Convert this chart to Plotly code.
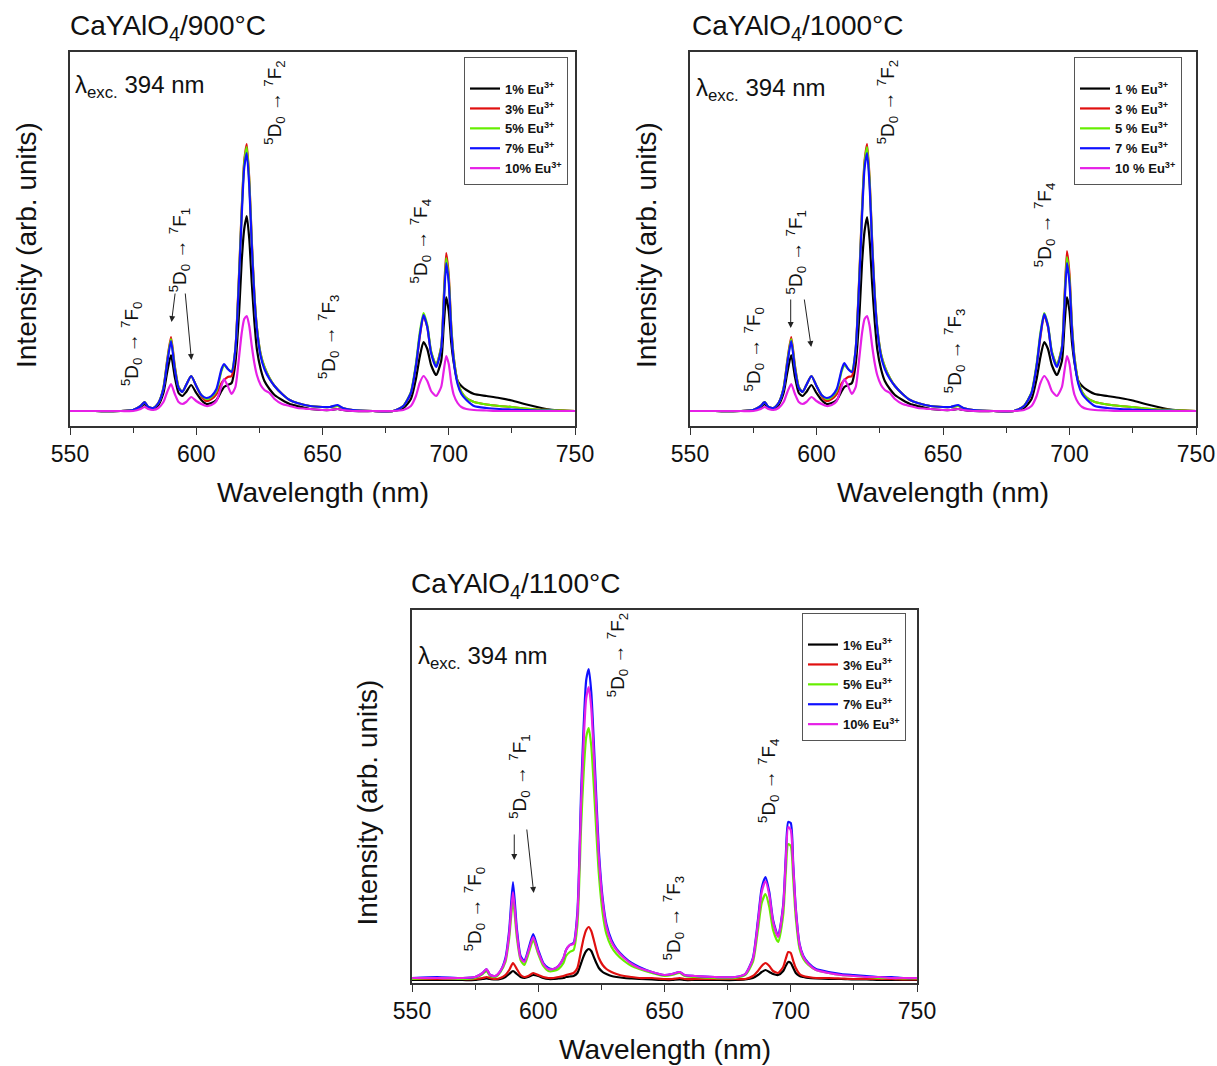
import plotly.graph_objects as go

# ---------------- data ----------------
WL = [550, 560, 570, 575, 578, 579.5, 581, 583, 585, 587,
      588.5, 590, 591.5, 593, 594.5, 596, 598, 600, 602, 604,
      606, 608, 610, 611, 612.5, 614, 615.5, 617, 618, 619,
      620, 621, 622, 623, 624, 625.5, 627, 629, 631, 634,
      637, 640, 645, 650, 653, 656, 658, 662, 670, 678,
      682, 685, 687, 688.5, 690, 691.5, 693, 695, 697, 698,
      699, 700, 701, 702, 703.5, 705, 707, 710, 715, 720,
      725, 730, 735, 740, 745, 750]

# ---- CaYAlO4 / 900 C ----
p900_eu1 = [0, 0, 0, 1, 4, 7, 3, 2, 6, 18,
            39, 56, 34, 18, 15, 19, 26, 18, 11, 7,
            8, 11, 20, 24, 26, 28, 48, 100, 150, 182,
            195, 172, 128, 90, 62, 42, 30, 22, 16, 11,
            7, 5, 2, 1, 1, 2, 1, 0, 0, 0,
            3, 12, 32, 54, 69, 62, 46, 36, 50, 85,
            114, 100, 68, 48, 30, 25, 21, 17, 15, 13,
            10.5, 7, 4, 1.5, 0.5, 0]
p900_eu3 = [0, 0, 0, 1, 5, 9, 4, 3, 8, 23,
            51, 74, 45, 24, 19, 26, 35, 25, 15, 10,
            12, 17, 28, 31, 34, 35, 62, 140, 202, 250,
            267, 232, 170, 118, 84, 57, 44, 33, 25, 17,
            11, 8, 5, 4, 4, 5, 3, 1, 0, 0,
            5, 18, 45, 74, 95, 84, 59, 46, 64, 112,
            158, 136, 85, 53, 29, 19, 13, 9, 6.5, 5,
            4, 2.5, 1.5, 1, 0.5, 0]
p900_eu5 = [0, 0, 0, 1, 5, 9, 4, 3, 8, 23,
            50, 72, 44, 24, 19, 26, 35, 25, 16, 12,
            14, 20, 40, 46, 42, 40, 62, 138, 200, 248,
            264, 230, 168, 117, 84, 57, 44, 33, 25, 17,
            11, 8, 5, 4, 4, 5, 3, 1, 0, 0,
            5, 19, 47, 78, 98, 86, 60, 46, 64, 110,
            153, 132, 84, 53, 29, 19, 13, 9, 6.5, 5,
            4, 2.5, 1.5, 1, 0.5, 0]
p900_eu7 = [0, 0, 0, 1, 5, 9, 4, 3, 8, 22,
            48, 70, 42, 23, 19, 26, 35, 25, 16, 13,
            15, 22, 42, 47, 42, 39, 62, 135, 195, 243,
            258, 225, 165, 115, 82, 55, 42, 32, 25, 17,
            11, 8, 5, 4, 4, 6, 3, 1, 0, 0,
            5, 18, 45, 75, 96, 84, 58, 44, 62, 105,
            148, 128, 80, 50, 27, 17, 11, 5, 3, 2,
            1.5, 1, 0.5, 0.5, 0, 0]
p900_eu10 = [0, 0, 0, 0, 2, 4, 2, 1, 3, 9,
             19, 27, 17, 9, 7, 9, 14, 10, 7, 5,
             6, 10, 25, 32, 25, 17, 24, 55, 78, 92,
             95, 85, 65, 48, 36, 26, 21, 18, 12, 7,
             5, 3, 2, 1, 1, 2, 1, 0, 0, 0,
             1, 5, 15, 28, 35, 30, 20, 15, 24, 40,
             55, 47, 28, 16, 8, 4, 2, 1, 0.5, 0,
             0, 0, 0, 0, 0, 0]

# ---- CaYAlO4 / 1000 C ----
p1000_eu1 = [0, 0, 0, 1, 4, 7, 3, 2, 6, 18,
             39, 56, 34, 18, 15, 19, 26, 18, 11, 7,
             8, 11, 20, 24, 26, 28, 47, 98, 148, 180,
             194, 171, 127, 90, 62, 42, 30, 22, 16, 11,
             7, 5, 2, 1, 1, 2, 1, 0, 0, 0,
             3, 12, 32, 54, 69, 62, 46, 36, 50, 85,
             114, 100, 68, 48, 30, 25, 21, 17, 15, 13,
             10.5, 7, 4, 1.5, 0.5, 0]
p1000_eu3 = [0, 0, 0, 1, 5, 9, 4, 3, 8, 23,
             51, 74, 45, 24, 19, 26, 35, 25, 15, 10,
             12, 17, 28, 31, 34, 35, 62, 140, 202, 250,
             267, 232, 170, 118, 84, 57, 44, 33, 25, 17,
             11, 8, 5, 4, 4, 5, 3, 1, 0, 0,
             5, 18, 45, 74, 96, 84, 59, 46, 64, 112,
             160, 137, 85, 53, 29, 19, 13, 9, 6.5, 5,
             4, 2.5, 1.5, 1, 0.5, 0]
p1000_eu5 = [0, 0, 0, 1, 5, 9, 4, 3, 8, 23,
             50, 72, 44, 24, 19, 26, 35, 25, 16, 12,
             14, 20, 40, 46, 42, 40, 62, 138, 200, 248,
             264, 230, 168, 117, 84, 57, 44, 33, 25, 17,
             11, 8, 5, 4, 4, 5, 3, 1, 0, 0,
             5, 19, 47, 78, 98, 86, 60, 46, 64, 110,
             154, 132, 84, 53, 29, 19, 13, 9, 6.5, 5,
             4, 2.5, 1.5, 1, 0.5, 0]
p1000_eu7 = [0, 0, 0, 1, 5, 9, 4, 3, 8, 22,
             48, 70, 42, 23, 19, 26, 35, 25, 16, 13,
             15, 22, 42, 48, 42, 39, 62, 135, 195, 243,
             258, 225, 165, 115, 82, 55, 42, 32, 25, 17,
             11, 8, 5, 4, 4, 6, 3, 1, 0, 0,
             5, 18, 45, 76, 97, 85, 58, 44, 62, 105,
             148, 128, 80, 50, 27, 17, 11, 5, 3, 2,
             1.5, 1, 0.5, 0.5, 0, 0]
p1000_eu10 = [0, 0, 0, 0, 2, 4, 2, 1, 3, 9,
              19, 27, 17, 9, 7, 9, 14, 10, 7, 5,
              6, 10, 25, 32, 25, 17, 24, 55, 78, 92,
              95, 85, 65, 48, 36, 26, 21, 18, 12, 7,
              5, 3, 2, 1, 1, 2, 1, 0, 0, 0,
              1, 5, 15, 28, 35, 30, 20, 15, 24, 40,
              55, 47, 28, 16, 8, 4, 2, 1, 0.5, 0,
              0, 0, 0, 0, 0, 0]

# ---- CaYAlO4 / 1100 C ----
p1100_eu1 = [0, 0, 0, 0, 1, 1.5, 1, 0.5, 1, 3,
             6, 9, 6, 3, 2, 3, 5, 4, 2, 1,
             1, 1.5, 2, 3, 3.5, 4, 7, 17, 24, 29,
             31, 29, 23, 17, 12, 8, 6, 4, 3, 2,
             1.5, 1, 0.5, 0, 0, 0.5, 0, 0, 0, 0,
             0.5, 2, 5, 8, 10, 8, 6, 5, 9, 14,
             18, 17, 12, 7, 4, 3, 2, 1.5, 1, 1,
             0.5, 0.5, 0, 0, 0, 0]
p1100_eu3 = [1, 1, 1, 1, 2, 3, 2, 1, 2, 5,
             10, 17, 11, 5, 3, 4, 7, 5, 3, 2,
             2, 3, 4, 5, 6, 7, 12, 30, 42, 50,
             53, 49, 40, 30, 22, 15, 11, 8, 6, 4,
             3, 2, 2, 1, 1, 2, 1, 1, 1, 1,
             1, 4, 9, 14, 17, 14, 9, 7, 13, 21,
             28, 27, 19, 12, 6, 4, 3, 2, 2, 1.5,
             1, 1, 1, 1, 0.5, 0.5]
p1100_eu5 = [1, 2, 1, 2, 6, 9, 4, 3, 8, 18,
             42, 80, 43, 20, 15, 25, 40, 26, 14, 9,
             9, 11, 17, 24, 28, 30, 55, 155, 208, 243,
             252, 234, 194, 148, 106, 67, 46, 33, 26, 19,
             14, 11, 7, 4, 5, 7, 4, 3, 2, 2,
             5, 18, 50, 77, 86, 73, 50, 38, 65, 106,
             136, 134, 100, 62, 31, 21, 15, 10, 7, 5,
             4, 3, 2, 2, 1.5, 1.5]
p1100_eu7 = [2, 3, 2, 3, 7, 11, 5, 4, 9, 22,
             50, 98, 52, 24, 19, 30, 46, 30, 17, 12,
             11, 14, 22, 30, 35, 37, 68, 190, 255, 300,
             311, 288, 238, 182, 130, 82, 56, 40, 31, 23,
             17, 13, 8, 5, 6, 8, 5, 4, 3, 3,
             6, 22, 60, 92, 103, 88, 60, 44, 75, 122,
             158, 157, 115, 72, 36, 24, 17, 11, 8, 6,
             5, 4, 3, 3, 2, 2]
p1100_eu10 = [2, 2, 2, 3, 7, 11, 5, 4, 9, 20,
              46, 88, 48, 22, 18, 28, 43, 28, 16, 11,
              11, 14, 22, 30, 35, 36, 64, 178, 240, 282,
              293, 272, 225, 172, 123, 78, 53, 38, 30, 22,
              16, 12, 8, 5, 6, 8, 5, 4, 3, 3,
              6, 21, 57, 88, 99, 85, 58, 43, 73, 118,
              153, 150, 112, 70, 35, 23, 16, 10, 7, 5,
              4, 3, 3, 2, 2, 2]

LABELS_A = ["1% Eu", "3% Eu", "5% Eu", "7% Eu", "10% Eu"]
LABELS_B = ["1 % Eu", "3 % Eu", "5 % Eu", "7 % Eu", "10 % Eu"]
TITLES = ["900°C", "1000°C", "1100°C"]
X_TICKS = [550, 600, 650, 700, 750]

# ---------------- styling / layout ----------------
W, H = 1217, 1066
FONT = "Liberation Sans, Arial, sans-serif"
COLORS = ["#000000", "#e01010", "#66ee00", "#1010ff", "#e620e6"]

def fx(p):
    return p / W

def fy(p):
    return 1 - p / H

panels = [
    dict(series=[p900_eu1, p900_eu3, p900_eu5, p900_eu7, p900_eu10], labels=LABELS_A,
         box=(70, 575, 52, 426), yr=[-15, 359], leg=(464, 57), title_xy=(68, 27),
         lam_xy=(73, 86), ytitle_x=27,
         trans=[(574.2, 67, "0"), (593.3, 161, "1"), (630.7, 309, "2"), (652.2, 74, "3"), (688.8, 170, "4")],
         arrows=[(590.2, 89, 591.7, 119), (598.1, 51, 595.6, 119)]),
    dict(series=[p1000_eu1, p1000_eu3, p1000_eu5, p1000_eu7, p1000_eu10], labels=LABELS_B,
         box=(690, 1196, 52, 426), yr=[-15, 359], leg=(1074, 57), title_xy=(690, 27),
         lam_xy=(694, 90), ytitle_x=647,
         trans=[(575.1, 62, "0"), (591.7, 159, "1"), (628.0, 309, "2"), (654.4, 60, "3"), (690.0, 186, "4")],
         arrows=[(589.8, 83, 589.8, 113), (597.9, 64, 595.1, 113)]),
    dict(series=[p1100_eu1, p1100_eu3, p1100_eu5, p1100_eu7, p1100_eu10], labels=LABELS_A,
         box=(412, 917, 610, 983), yr=[-3, 370], leg=(802, 613), title_xy=(409, 585),
         lam_xy=(416, 657), ytitle_x=367,
         trans=[(574.7, 71, "0"), (592.3, 204, "1"), (631.3, 325, "2"), (653.5, 62, "3"), (691.0, 199, "4")],
         arrows=[(590.5, 120, 590.5, 147), (598.2, 87, 595.4, 152)]),
]

fig = go.Figure()
annotations = []
layout = dict(width=W, height=H, margin=dict(l=0, r=0, t=0, b=0, pad=0, autoexpand=False),
              paper_bgcolor="white", plot_bgcolor="white",
              font=dict(family=FONT, color="#111"), showlegend=True)

for i, p in enumerate(panels):
    n = "" if i == 0 else str(i + 1)
    xa, ya = "x" + n, "y" + n
    legname = "legend" + n
    for s, lab, c in zip(p["series"], p["labels"], COLORS):
        fig.add_trace(go.Scatter(
            x=WL, y=s, mode="lines", name="<b>" + lab + "<sup>3+</sup></b>",
            line=dict(color=c, width=2.2, shape="spline", smoothing=0.6),
            xaxis=xa, yaxis=ya, legend=legname, hoverinfo="skip"))
    x0, x1, y0, y1 = p["box"]
    layout["xaxis" + n] = dict(
        domain=[fx(x0), fx(x1)], anchor=ya, range=[550, 750], tickvals=X_TICKS,
        ticks="outside", ticklen=7, tickwidth=1.3, tickcolor="#333", automargin=False,
        minor=dict(dtick=25, ticks="outside", ticklen=5, tickwidth=1.2, tickcolor="#333", showgrid=False),
        showline=True, mirror=True, linecolor="#333", linewidth=1.5,
        showgrid=False, zeroline=False, tickfont=dict(size=23, color="#111"))
    layout["yaxis" + n] = dict(
        domain=[fy(y1), fy(y0)], anchor=xa, range=p["yr"], showticklabels=False,
        ticks="", showline=True, mirror=True, linecolor="#333", linewidth=1.5, automargin=False,
        showgrid=False, zeroline=False)
    lx, ly = p["leg"]
    layout[legname] = dict(
        x=fx(lx), y=fy(ly), xanchor="left", yanchor="top",
        bgcolor="white", bordercolor="#555", borderwidth=1,
        font=dict(size=13, family=FONT, color="#111"),
        title=dict(text=" ", font=dict(size=12)))
    # panel title
    tx, ty = p["title_xy"]
    annotations.append(dict(text="CaYAlO<sub>4</sub>/" + TITLES[i], x=fx(tx), y=fy(ty),
                            xref="paper", yref="paper", xanchor="left", yanchor="middle",
                            showarrow=False, font=dict(size=28, color="#111")))
    # excitation
    lxx, lyy = p["lam_xy"]
    annotations.append(dict(text="λ<sub>exc.</sub> 394 nm", x=fx(lxx), y=fy(lyy),
                            xref="paper", yref="paper", xanchor="left", yanchor="middle",
                            showarrow=False, font=dict(size=24, color="#111")))
    # axis titles
    annotations.append(dict(text="Wavelength (nm)", x=fx((x0 + x1) / 2), y=fy(y1 + 66),
                            xref="paper", yref="paper", xanchor="center", yanchor="middle",
                            showarrow=False, font=dict(size=28, color="#111")))
    annotations.append(dict(text="Intensity (arb. units)", x=fx(p["ytitle_x"]), y=fy((y0 + y1) / 2 + 6),
                            xref="paper", yref="paper", xanchor="center", yanchor="middle",
                            textangle=-90, showarrow=False, font=dict(size=28, color="#111")))
    # transition labels
    for (tx_, ty_, k) in p["trans"]:
        annotations.append(dict(
            text="<sup>5</sup>D<sub>0</sub> → <sup>7</sup>F<sub>" + k + "</sub>",
            x=tx_, y=ty_, xref=xa, yref=ya, xanchor="center", yanchor="middle",
            textangle=-90, showarrow=False, font=dict(size=19, color="#111")))
    for (hx, hy, tx_, ty_) in p["arrows"]:
        annotations.append(dict(text="", x=hx, y=hy, ax=tx_, ay=ty_, xref=xa, yref=ya,
                                axref=xa, ayref=ya, showarrow=True, arrowhead=2,
                                arrowsize=1.2, arrowwidth=1, arrowcolor="#222"))

layout["annotations"] = annotations
fig.update_layout(**layout)
fig.write_html("out.html", config={"displayModeBar": False},
               post_script="document.body.style.margin='0px';document.body.style.overflow='hidden';")
